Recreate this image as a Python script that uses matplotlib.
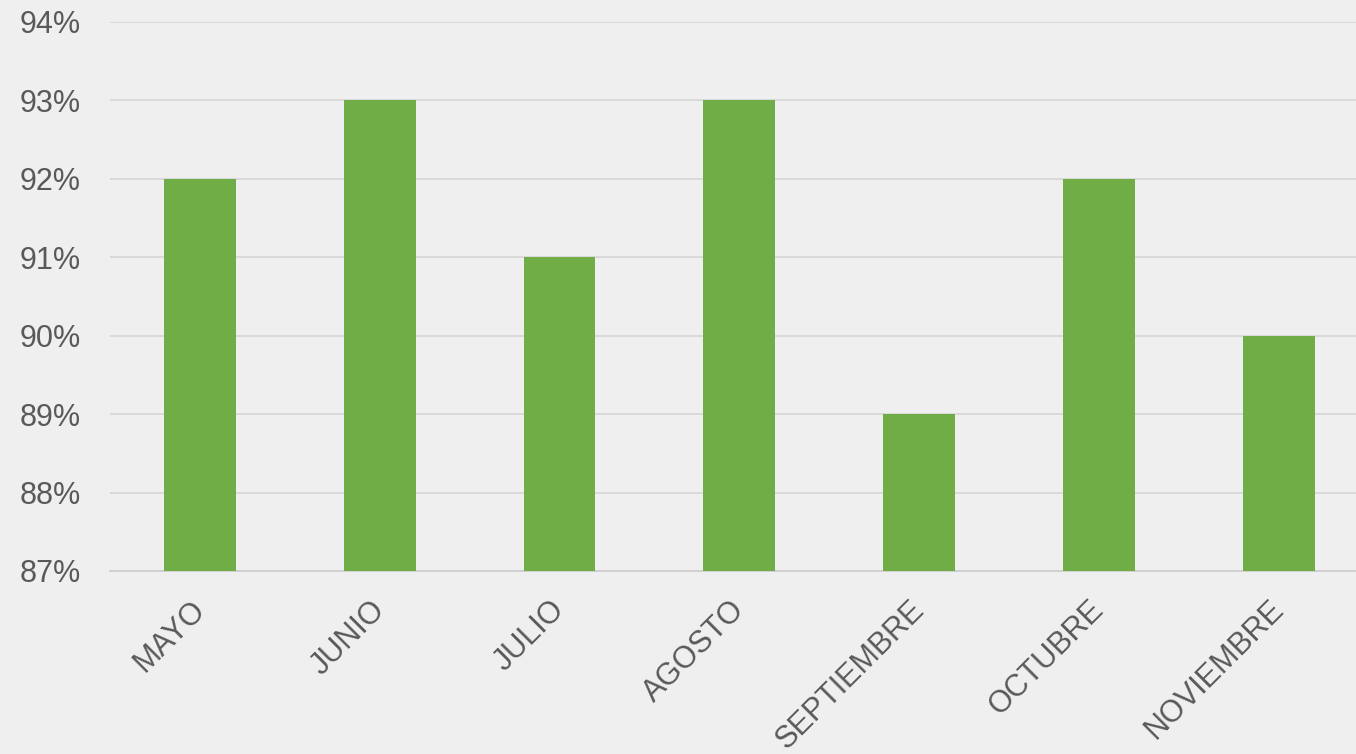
import matplotlib
matplotlib.use('Agg')
import matplotlib.pyplot as plt
import matplotlib.transforms as mtransforms
from matplotlib.ticker import FuncFormatter

meses = ['MAYO', 'JUNIO', 'JULIO', 'AGOSTO', 'SEPTIEMBRE', 'OCTUBRE', 'NOVIEMBRE']
valores = [92, 93, 91, 93, 89, 92, 90]
y_ticks = [87, 88, 89, 90, 91, 92, 93, 94]

plt.rcParams['font.family'] = ['Liberation Sans', 'DejaVu Sans']
bg = '#efefef'
text_color = '#595959'

fig = plt.figure(figsize=(13.56, 7.54), dpi=100, facecolor=bg)
ax = fig.add_axes([110 / 1356, 1 - 571 / 754, 1 - 110 / 1356, (571 - 22) / 754])
ax.set_facecolor(bg)

x = range(len(meses))
ax.bar(x, valores, width=0.4, color='#70AD47', zorder=3)

ax.set_ylim(87, 94)
ax.set_xlim(-0.5, 6.43)
ax.set_yticks(y_ticks)
ax.yaxis.set_major_formatter(FuncFormatter(lambda v, p: f'{v:.0f}%'))
ax.grid(axis='y', color='#d9d9d9', linewidth=1.4, zorder=0)
ax.set_axisbelow(True)

for s in ['top', 'right', 'left']:
    ax.spines[s].set_visible(False)
ax.spines['bottom'].set_color('#d0d0d0')
ax.spines['bottom'].set_linewidth(1.4)

ax.tick_params(axis='y', length=0, pad=21, labelsize=22, labelcolor=text_color)
ax.tick_params(axis='x', length=0, pad=17, labelsize=22, labelcolor=text_color)
ax.set_xticks(list(x))
ax.set_xticklabels(meses, rotation=45, ha='right', va='top', rotation_mode='anchor')

# shift rotated labels slightly left, like the original
offset = mtransforms.ScaledTranslation(-10 / 100, 0, fig.dpi_scale_trans)
for lab in ax.get_xticklabels():
    lab.set_transform(lab.get_transform() + offset)

fig.savefig('out.png', dpi=100, facecolor=bg)
